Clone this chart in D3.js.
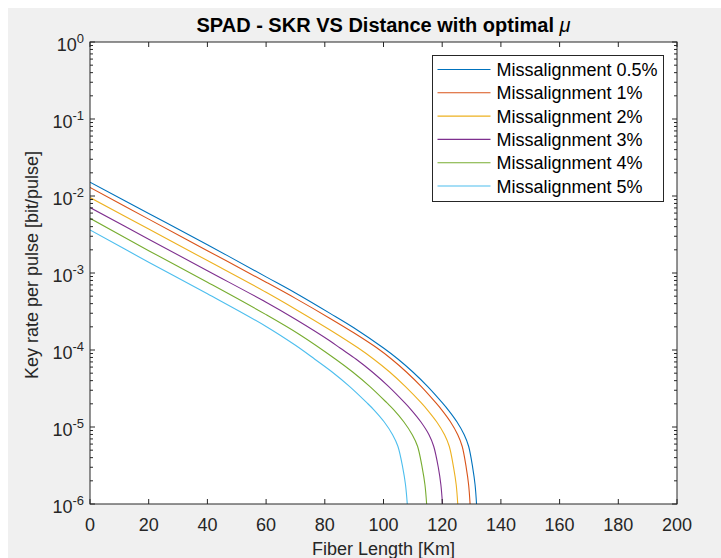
<!DOCTYPE html>
<html>
<head>
<meta charset="utf-8">
<script src="https://cdn.jsdelivr.net/npm/d3@7"></script>
<style>
  html, body { margin: 0; padding: 0; background: #fff; }
  svg { display: block; font-family: Arial, "Liberation Sans", sans-serif; }
</style>
</head>
<body>
<svg id="chart"></svg>
<script>
// series names and colours (MATLAB default order)
const names = ["Missalignment 0.5%", "Missalignment 1%", "Missalignment 2%",
               "Missalignment 3%", "Missalignment 4%", "Missalignment 5%"];
const colors = ["#0072BD", "#D95319", "#EDB120", "#7E2F8E", "#77AC30", "#4DBEEE"];

// fiber length [km] and key rate [bit/pulse]
const km05 = [0, 20, 40, 60, 70, 81.8, 90, 100, 105, 110, 115, 120, 122.1, 125, 127.5, 129, 130.4, 131.2, 131.7];
const skr05 = [1.51e-2, 5.94e-3, 2.33e-3, 8.91e-4, 5.50e-4, 2.99e-4, 1.93e-4, 1.06e-4, 7.59e-5, 5.18e-5,
               3.37e-5, 2.07e-5, 1.66e-5, 1.17e-5, 7.94e-6, 5.62e-6, 2.95e-6, 1.78e-6, 1.0e-6];

const km1 = [0, 20, 40, 60, 70, 81.8, 90, 97.8, 102.8, 107.8, 112.8, 117.8, 119.9, 122.8, 125.3, 126.8, 128.2, 129.0, 129.5];
const skr1 = [1.29e-2, 5.01e-3, 1.95e-3, 7.59e-4, 4.68e-4, 2.57e-4, 1.66e-4, 1.06e-4, 7.59e-5, 5.18e-5,
              3.37e-5, 2.07e-5, 1.66e-5, 1.17e-5, 7.94e-6, 5.62e-6, 2.95e-6, 1.78e-6, 1.0e-6];

const km2 = [0, 20, 40, 60, 70, 81.8, 91.4, 96.7, 102.1, 107.4, 112.8, 115.0, 118.1, 120.8, 122.4, 123.9, 124.77, 125.3];
const skr2 = [9.55e-3, 3.72e-3, 1.45e-3, 5.62e-4, 3.39e-4, 1.82e-4, 1.06e-4, 7.59e-5, 5.18e-5,
              3.37e-5, 2.07e-5, 1.66e-5, 1.17e-5, 7.94e-6, 5.62e-6, 2.95e-6, 1.78e-6, 1.0e-6];

const km3 = [0, 20, 40, 60, 70, 81.8, 85.2, 90.7, 96.2, 101.7, 107.2, 109.5, 112.7, 115.5, 117.1, 118.7, 119.55, 120.1];
const skr3 = [7.08e-3, 2.75e-3, 1.07e-3, 4.17e-4, 2.51e-4, 1.31e-4, 1.06e-4, 7.59e-5, 5.18e-5,
              3.37e-5, 2.07e-5, 1.66e-5, 1.17e-5, 7.94e-6, 5.62e-6, 2.95e-6, 1.78e-6, 1.0e-6];

const km4 = [0, 20, 40, 60, 71.5, 83.7, 89.5, 95.3, 101.1, 103.6, 106.9, 109.8, 111.6, 113.2, 114.12, 114.7];
const skr4 = [5.13e-3, 1.95e-3, 7.59e-4, 2.88e-4, 1.58e-4, 7.59e-5, 5.18e-5, 3.37e-5,
              2.07e-5, 1.66e-5, 1.17e-5, 7.94e-6, 5.62e-6, 2.95e-6, 1.78e-6, 1.0e-6];

const km5 = [0, 20, 40, 60, 70, 76.6, 82.5, 88.4, 94.3, 96.8, 100.2, 103.1, 104.9, 106.57, 107.5, 108.1];
const skr5 = [3.63e-3, 1.38e-3, 5.37e-4, 2.02e-4, 1.15e-4, 7.59e-5, 5.18e-5, 3.37e-5,
              2.07e-5, 1.66e-5, 1.17e-5, 7.94e-6, 5.62e-6, 2.95e-6, 1.78e-6, 1.0e-6];

const xTicks = [0, 20, 40, 60, 80, 100, 120, 140, 160, 180, 200];
const yExps = [0, -1, -2, -3, -4, -5, -6];

const width = 721, height = 558;
const margin = { left: 90, right: 44, top: 42, bottom: 54 };
const axColor = "#262626";

const svg = d3.select("#chart").attr("width", width).attr("height", height);

// figure background
svg.append("rect").attr("x", 8).attr("y", 8)
  .attr("width", width - 8).attr("height", height - 8).attr("fill", "#f0f0f0");

const x = d3.scaleLinear().domain([0, 200]).range([margin.left, width - margin.right]);
const y = d3.scaleLog().domain([1e-6, 1]).range([height - margin.bottom, margin.top]);

const [x0, x1] = x.range();
const [y0, y1] = y.range();

svg.append("rect").attr("x", x0).attr("y", y1)
  .attr("width", x1 - x0).attr("height", y0 - y1).attr("fill", "#fff");

svg.append("clipPath").attr("id", "plotClip")
  .append("rect").attr("x", x0).attr("y", y1).attr("width", x1 - x0).attr("height", y0 - y1);

// curves
const series = [
  [km05, skr05], [km1, skr1], [km2, skr2], [km3, skr3], [km4, skr4], [km5, skr5]
].map(([k, s], i) => ({ name: names[i], color: colors[i], pts: k.map((d, j) => [d, s[j]]) }));

const line = d3.line()
  .x(d => x(d[0]))
  .y(d => y(d[1]))
  .curve(d3.curveCatmullRom.alpha(0.5));

svg.append("g").attr("clip-path", "url(#plotClip)")
  .selectAll("path")
  .data(series)
  .join("path")
  .attr("d", d => line(d.pts))
  .attr("fill", "none")
  .attr("stroke", d => d.color)
  .attr("stroke-width", 1.1);

// axes (MATLAB style: ticks inside, box on)
const ax = svg.append("g").attr("stroke", axColor).attr("fill", "none");
ax.append("rect").attr("x", x0).attr("y", y1)
  .attr("width", x1 - x0).attr("height", y0 - y1).attr("stroke-width", 1);

xTicks.forEach(t => {
  ax.append("line").attr("x1", x(t)).attr("x2", x(t)).attr("y1", y0).attr("y2", y0 - 5);
  ax.append("line").attr("x1", x(t)).attr("x2", x(t)).attr("y1", y1).attr("y2", y1 + 5);
});

yExps.forEach(e => {
  const yy = y(Math.pow(10, e));
  ax.append("line").attr("x1", x0).attr("x2", x0 + 5).attr("y1", yy).attr("y2", yy);
  ax.append("line").attr("x1", x1).attr("x2", x1 - 5).attr("y1", yy).attr("y2", yy);
  if (e > -6) {
    for (let m = 2; m <= 9; m++) {
      const ym = y(m * Math.pow(10, e - 1));
      ax.append("line").attr("x1", x0).attr("x2", x0 + 3).attr("y1", ym).attr("y2", ym);
      ax.append("line").attr("x1", x1).attr("x2", x1 - 3).attr("y1", ym).attr("y2", ym);
    }
  }
});

// tick labels
svg.append("g").selectAll("text")
  .data(xTicks)
  .join("text")
  .attr("x", d => x(d))
  .attr("y", y0 + 27)
  .attr("text-anchor", "middle")
  .attr("fill", axColor)
  .style("font-size", "18px")
  .text(d => d);

const yl = svg.append("g").selectAll("text")
  .data(yExps)
  .join("text")
  .attr("x", x0 - 6)
  .attr("y", d => y(Math.pow(10, d)) + 9)
  .attr("text-anchor", "end")
  .attr("fill", axColor)
  .style("font-size", "18px");
yl.append("tspan").text("10");
yl.append("tspan").attr("dy", -8).style("font-size", "13px").text(d => d);

// axis titles
svg.append("text")
  .attr("x", (x0 + x1) / 2).attr("y", 555)
  .attr("text-anchor", "middle").attr("fill", axColor)
  .style("font-size", "18px")
  .text("Fiber Length [Km]");

svg.append("text")
  .attr("transform", `translate(38, ${(y0 + y1) / 2 - 8}) rotate(-90)`)
  .attr("text-anchor", "middle").attr("fill", axColor)
  .style("font-size", "18px")
  .text("Key rate per pulse [bit/pulse]");

const title = svg.append("text")
  .attr("x", (x0 + x1) / 2).attr("y", 32)
  .attr("text-anchor", "middle").attr("fill", "#000")
  .style("font-size", "20px").style("font-weight", "bold");
title.append("tspan").text("SPAD - SKR VS Distance with optimal ");
title.append("tspan").style("font-style", "italic").style("font-weight", "normal").text("μ");

// legend
const lg = svg.append("g").attr("transform", "translate(432.5, 55.5)");
lg.append("rect").attr("width", 231).attr("height", 146)
  .attr("fill", "#fff").attr("stroke", axColor).attr("stroke-width", 1);

const rows = lg.selectAll("g.row")
  .data(series)
  .join("g")
  .attr("class", "row")
  .attr("transform", (d, i) => `translate(0, ${14 + i * 23.3})`);
rows.append("line")
  .attr("x1", 5).attr("x2", 58).attr("y1", 0).attr("y2", 0)
  .attr("stroke", d => d.color).attr("stroke-width", 1.1);
rows.append("text")
  .attr("x", 64).attr("y", 6.5)
  .attr("fill", "#000")
  .style("font-size", "18px")
  .text(d => d.name);
</script>
</body>
</html>
